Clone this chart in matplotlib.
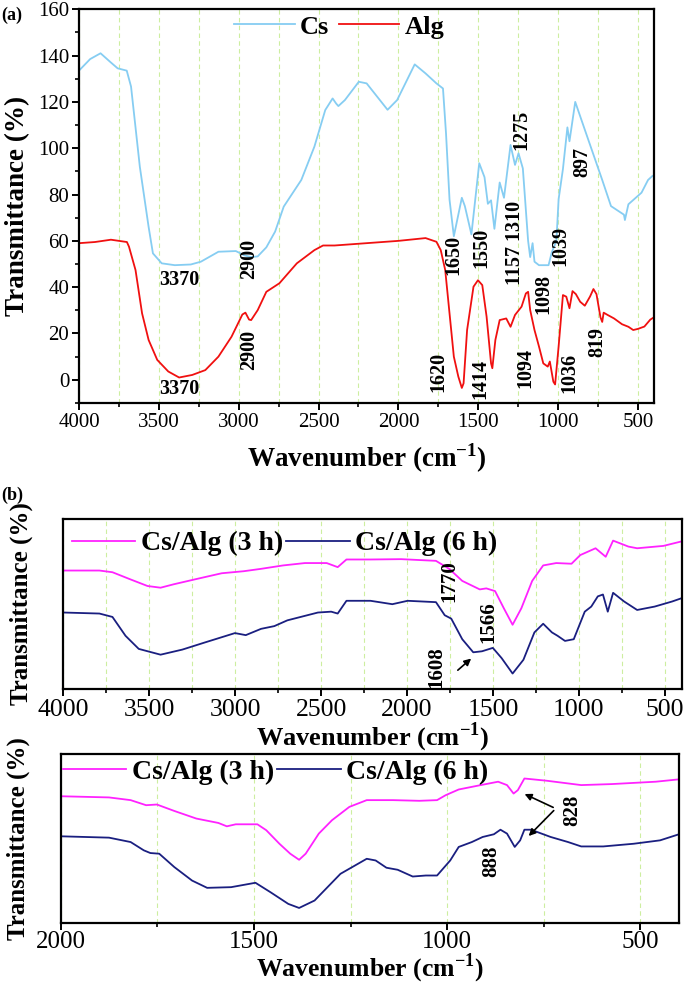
import matplotlib
matplotlib.use('Agg')
import matplotlib.pyplot as plt
from matplotlib.ticker import MultipleLocator, NullFormatter

plt.rcParams['font.family'] = ['Liberation Serif', 'DejaVu Serif']
plt.rcParams['mathtext.fontset'] = 'custom'
plt.rcParams['mathtext.rm'] = 'Liberation Serif'
plt.rcParams['mathtext.bf'] = 'Liberation Serif:bold'

# ---- dados do painel (a) ----
cs_wn = [4000, 3930, 3865, 3800, 3758, 3701, 3674, 3619, 3564, 3537, 3482, 3400, 3300, 3237,
         3127, 3018, 2963, 2922, 2881, 2827, 2772, 2718, 2608, 2526, 2458, 2412, 2390, 2376,
         2335, 2248, 2199, 2068, 2008, 1898, 1830, 1762, 1721, 1702, 1680, 1653, 1603, 1584,
         1543, 1494, 1461, 1440, 1420, 1399, 1366, 1339, 1298, 1270, 1248, 1221, 1188, 1175,
         1160, 1148, 1120, 1060, 1040, 1011, 997, 970, 942, 929, 893, 833, 724, 669, 588, 582,
         560, 478, 437, 410]
cs_t = [133.5, 138.5, 141, 137, 134.5, 133.5, 126.6, 92, 66, 54.6, 50.3, 49.5, 49.8, 51,
        55.3, 55.6, 53.7, 53, 53.3, 57.2, 64, 74.8, 86.3, 100.7, 116.5, 121.5, 119.3, 118.2,
        120.8, 128.7, 128, 116.6, 120.8, 136.2, 132.3, 128, 125.8, 106.4, 77.8, 62, 78.6, 75,
        62.8, 93.5, 87.5, 76, 77.5, 65.2, 85.2, 78.6, 101.4, 92.8, 97.8, 91.3, 60, 53,
        59, 51, 49.5, 49.5, 55, 60, 78, 91, 109, 103, 120, 108, 86.3, 75, 71.3, 69,
        75.8, 80.8, 86.3, 88]

alg_wn = [4000, 3900, 3800, 3700, 3687, 3646, 3605, 3564, 3510, 3441, 3373, 3291, 3209, 3127,
          3045, 2977, 2958, 2935, 2922, 2881, 2827, 2745, 2636, 2526, 2472, 2400, 2000, 1830,
          1762, 1735, 1707, 1680, 1653, 1625, 1603, 1592, 1570, 1530, 1502, 1475, 1448, 1420,
          1412, 1393, 1366, 1325, 1298, 1270, 1229, 1202, 1188, 1175, 1148, 1120, 1093, 1065,
          1052, 1030, 1019, 997, 970, 949, 929, 910, 889, 862, 833, 800, 779, 760, 735, 724,
          715, 690, 650, 600, 560, 530, 500, 460, 423, 400]
alg_t = [59, 59.5, 60.5, 59.5, 57.5, 47.4, 28.7, 17.2, 8.6, 3.6, 1.0, 2.1, 4.2, 10,
         18.6, 28.2, 29, 26, 25.8, 30.1, 38, 41.7, 50.3, 56, 58, 58, 60, 61.2,
         59.6, 56, 47.4, 28.7, 10, 1.4, -3.5, -1.5, 21.5, 40.2, 43, 40.9, 27.3, 7.1,
         5, 17.2, 25.8, 26.5, 22.9, 28, 31.6, 37.3, 38, 30.1, 21.5, 14.4, 7.1, 5.7,
         7.9, -0.8, -2, 14.4, 36.6, 35.9, 30.9, 38.3, 37, 33.7, 32, 36, 39.2, 37, 27, 25,
         29, 28, 26.5, 24, 22.9, 21.5, 22, 23, 26, 27]

# rotulos dos picos (a): texto, x, y, rotacao
picos_a = [('3370', 3373, 43, 0), ('2900', 2936, 52, 90), ('3370', 3373, -4, 0),
           ('2900', 2936, 13, 90), ('1650', 1653, 54, 90), ('1550', 1483, 57, 90),
           ('1157 1310', 1272, 59, 90), ('1275', 1229, 108, 90), ('1098', 1093, 37, 90),
           ('1039', 983, 58, 90), ('897', 850, 94, 90), ('1620', 1748, 3.6, 90),
           ('1414', 1488, 0.5, 90), ('1094', 1202, 5.3, 90), ('1036', 929, 3, 90),
           ('819', 757, 16.5, 90)]

# ---- dados do painel (b), escala arbitraria ----
b1_3h_wn = [4000, 3791, 3715, 3613, 3511, 3435, 3359, 3231, 3079, 2951, 2850, 2722, 2595,
            2468, 2404, 2353, 2213, 2035, 1832, 1755, 1679, 1577, 1539, 1488, 1437, 1386,
            1335, 1272, 1208, 1132, 1043, 992, 903, 844, 801, 712, 661, 508, 400]
b1_3h = [69.7, 69.7, 68.7, 64.6, 60.6, 59.6, 61.6, 64.6, 68.1, 69.3, 70.7, 72.7, 74.1,
         74.1, 71.7, 76.2, 76.2, 76.4, 75.4, 70.7, 63.6, 58.6, 59.2, 57.6, 47.5, 37.8,
         47.5, 63.6, 72.7, 74.1, 73.7, 78.8, 82.8, 77.8, 87.3, 83.8, 82.8, 84.2, 86.9]
b1_6h_wn = [4000, 3791, 3715, 3639, 3562, 3435, 3308, 3180, 3002, 2939, 2850, 2773, 2697,
            2519, 2442, 2404, 2353, 2213, 2086, 1997, 1832, 1781, 1743, 1679, 1615, 1564,
            1501, 1450, 1386, 1323, 1259, 1208, 1157, 1124, 1081, 1030, 966, 928, 890, 860,
            832, 801, 737, 661, 559, 457, 400]
b1_6h = [45, 44.4, 42.4, 31.3, 23.6, 20.2, 23.2, 27.3, 32.9, 31.7, 35.4, 37, 40.4,
         45, 45.5, 44.4, 51.9, 51.9, 49.9, 51.9, 51.1, 43.4, 41.4, 29.3, 21.6, 22.2,
         24.2, 18.2, 9.1, 17.2, 33.3, 38.4, 33.3, 31.3, 28.3, 29.3, 45.5, 48.5, 54.5, 55.6,
         45.5, 56.6, 51.5, 46.5, 48.5, 51.5, 53.5]

b2_3h_wn = [2000, 1875, 1819, 1779, 1751, 1706, 1649, 1592, 1570, 1547, 1491, 1468, 1434,
            1406, 1383, 1366, 1332, 1298, 1253, 1208, 1140, 1072, 1026, 1004, 970, 913, 868,
            845, 828, 817, 800, 743, 653, 574, 460, 400]
b2_3h = [75, 74.3, 72.7, 69.7, 70.1, 66.3, 61.8, 59.2, 57.2, 58.4, 58.4, 54.9, 46.9,
         41, 37.4, 41, 52.9, 60.8, 68.7, 72.7, 72.7, 72.3, 72.7, 75.6, 79, 81.6, 83.6,
         81.6, 76.6, 78.6, 85.5, 84.2, 81.6, 82.2, 83.6, 85]
b2_6h_wn = [2000, 1875, 1819, 1785, 1768, 1745, 1706, 1660, 1621, 1559, 1496, 1457, 1411,
            1383, 1343, 1276, 1208, 1185, 1157, 1128, 1089, 1055, 1026, 992, 970, 936, 908,
            879, 862, 845, 825, 811, 800, 783, 732, 687, 653, 596, 517, 449, 400]
b2_6h = [51.3, 50.5, 47.9, 43, 41.4, 41, 33.1, 25.1, 20.8, 21.2, 23.8, 18.2, 11.3,
         8.9, 13.3, 29.1, 38, 37, 32.7, 31.5, 27.5, 28.1, 28.1, 37, 45, 47.9, 50.9,
         52.5, 55.2, 52.9, 45, 48.9, 55.2, 55.2, 50.9, 47.9, 45.3, 45.3, 46.9, 48.9, 52.5]

cor_cs = '#86cdf2'
cor_alg = '#f01010'
cor_3h = '#ff22ff'
cor_6h = '#1a1f80'
cor_grade = '#cdeea0'

fig = plt.figure(figsize=(6.85, 9.86), dpi=100)
ax_a = fig.add_axes([0.1153, 0.5913, 0.8394, 0.3993])
ax_b1 = fig.add_axes([0.0927, 0.3012, 0.9029, 0.1724])
ax_b2 = fig.add_axes([0.0886, 0.0639, 0.9026, 0.1714])


def estilo(ax, fs_tick, pad=2):
    for s in ax.spines.values():
        s.set_linewidth(1.6)
    ax.tick_params(which='major', direction='out', length=5, width=1.4, labelsize=fs_tick, pad=pad)
    ax.tick_params(which='minor', direction='out', length=3, width=1.2)
    ax.grid(True, which='both', axis='x', color=cor_grade, linestyle=(0, (4, 3)), linewidth=0.8)
    ax.set_axisbelow(True)


# ---- (a) ----
ax_a.plot(cs_wn, cs_t, color=cor_cs, lw=1.3, label='Cs')
ax_a.plot(alg_wn, alg_t, color=cor_alg, lw=1.3, label='Alg')
ax_a.set_xlim(4000, 400)
ax_a.set_ylim(-10, 160)
ax_a.xaxis.set_major_locator(MultipleLocator(500))
ax_a.xaxis.set_minor_locator(MultipleLocator(250))
ax_a.yaxis.set_major_locator(MultipleLocator(20))
ax_a.yaxis.set_minor_locator(MultipleLocator(10))
estilo(ax_a, 15)
ax_a.set_xlabel(r'Wavenumber (cm$^{\mathbf{-1}}$)', fontsize=19.5, fontweight='bold', labelpad=7)
ax_a.set_ylabel('Transmittance (%)', fontsize=19.5, fontweight='bold', labelpad=6)
ax_a.legend(loc='upper left', bbox_to_anchor=(0.27, 0.985), ncol=2, frameon=False,
            prop={'weight': 'bold', 'size': 19}, handlelength=2.3, handletextpad=0.2,
            columnspacing=0.35, borderpad=0, borderaxespad=0)
for txt, x, y, rot in picos_a:
    ax_a.text(x, y, txt, rotation=rot, ha='center', va='center', fontsize=14.5, fontweight='bold')
fig.text(0.002, 0.993, '(a)', fontsize=13, fontweight='bold', va='top')

# ---- (b) topo ----
ax_b1.plot(b1_3h_wn, b1_3h, color=cor_3h, lw=1.3, label='Cs/Alg (3 h)')
ax_b1.plot(b1_6h_wn, b1_6h, color=cor_6h, lw=1.3, label='Cs/Alg (6 h)')
ax_b1.set_xlim(4000, 400)
ax_b1.set_ylim(0, 100)
ax_b1.xaxis.set_major_locator(MultipleLocator(500))
ax_b1.xaxis.set_minor_locator(MultipleLocator(250))
estilo(ax_b1, 18.5)
ax_b1.set_yticks([])
ax_b1.set_xlabel(r'Wavenumber (cm$^{\mathbf{-1}}$)', fontsize=19, fontweight='bold', labelpad=0)
ax_b1.set_ylabel('Transmittance (%)', fontsize=18, fontweight='bold', labelpad=22)
ax_b1.legend(loc='upper left', bbox_to_anchor=(0.013, 0.93), ncol=2, frameon=False,
             prop={'weight': 'bold', 'size': 20}, handlelength=2.3, handletextpad=0.2,
             columnspacing=0.1, borderpad=0, borderaxespad=0)
ax_b1.text(1755, 63.6, '1770', rotation=90, ha='center', va='center', fontsize=15, fontweight='bold')
ax_b1.text(1526, 39.4, '1566', rotation=90, ha='center', va='center', fontsize=15, fontweight='bold')
ax_b1.text(1832, 13, '1608', rotation=90, ha='center', va='center', fontsize=15, fontweight='bold')
ax_b1.annotate('', xy=(1615, 19), xytext=(1717, 10),
               arrowprops=dict(arrowstyle='-|>', color='k', lw=1.2, mutation_scale=10))
fig.text(0.002, 0.506, '(b)', fontsize=13, fontweight='bold', va='top')

# ---- (b) baixo ----
ax_b2.plot(b2_3h_wn, b2_3h, color=cor_3h, lw=1.3, label='Cs/Alg (3 h)')
ax_b2.plot(b2_6h_wn, b2_6h, color=cor_6h, lw=1.3, label='Cs/Alg (6 h)')
ax_b2.set_xlim(2000, 400)
ax_b2.set_ylim(0, 100)
ax_b2.xaxis.set_major_locator(MultipleLocator(500))
ax_b2.xaxis.set_minor_locator(MultipleLocator(250))
ax_b2.xaxis.set_minor_formatter(NullFormatter())
estilo(ax_b2, 18, pad=1)
ax_b2.set_yticks([])
ax_b2.set_xlabel(r'Wavenumber (cm$^{\mathbf{-1}}$)', fontsize=18.5, fontweight='bold', labelpad=-1)
ax_b2.set_ylabel('Transmittance (%)', fontsize=18, fontweight='bold', labelpad=22)
ax_b2.legend(loc='upper left', bbox_to_anchor=(0.003, 0.97), ncol=2, frameon=False,
             prop={'weight': 'bold', 'size': 20}, handlelength=2.3, handletextpad=0.2,
             columnspacing=0.1, borderpad=0, borderaxespad=0)
ax_b2.text(676, 66.7, '828', rotation=90, ha='center', va='center', fontsize=15, fontweight='bold')
ax_b2.text(885, 36.6, '888', rotation=90, ha='center', va='center', fontsize=15, fontweight='bold')
ax_b2.annotate('', xy=(806, 77), xytext=(719, 67.7),
               arrowprops=dict(arrowstyle='-|>', color='k', lw=1.2, mutation_scale=10))
ax_b2.annotate('', xy=(794, 50.3), xytext=(719, 67.7),
               arrowprops=dict(arrowstyle='-|>', color='k', lw=1.2, mutation_scale=10))

fig.savefig('out.png', dpi=100)
